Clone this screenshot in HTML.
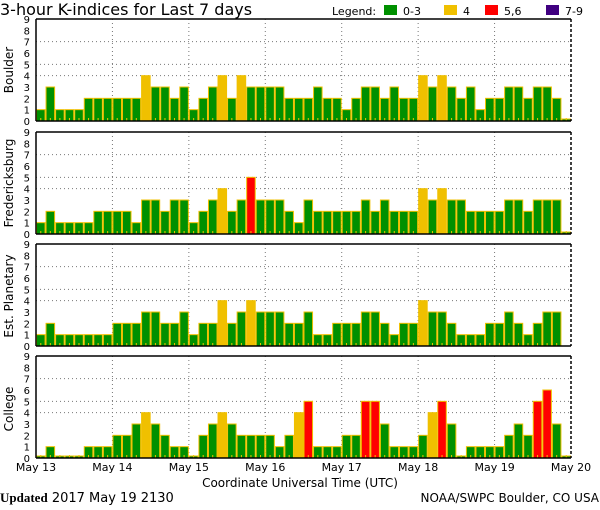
<!DOCTYPE html>
<html><head><meta charset="utf-8"><style>
body{margin:0;background:#fff;width:600px;height:510px;overflow:hidden}
svg{display:block}
text{font-family:"DejaVu Sans","Liberation Sans",sans-serif;fill:#000}
</style></head><body>
<svg id="s" width="600" height="510" xmlns="http://www.w3.org/2000/svg">
<text x="0" y="15" font-size="16">3-hour K-indices for Last 7 days</text>
<text x="332" y="15" font-size="11">Legend:</text>
<rect x="384" y="5" width="13" height="10" fill="#009000"/><text x="403" y="15" font-size="11">0-3</text>
<rect x="444" y="5" width="13" height="10" fill="#f0c000"/><text x="463" y="15" font-size="11">4</text>
<rect x="485" y="5" width="13" height="10" fill="#ff0000"/><text x="504" y="15" font-size="11">5,6</text>
<rect x="546" y="5" width="13" height="10" fill="#400080"/><text x="565" y="15" font-size="11">7-9</text>
<g id="g"></g>
<g font-size="11" text-anchor="middle">
<text x="36" y="471">May 13</text><text x="112.4" y="471">May 14</text><text x="188.9" y="471">May 15</text><text x="265.3" y="471">May 16</text><text x="341.7" y="471">May 17</text><text x="418.1" y="471">May 18</text><text x="494.6" y="471">May 19</text><text x="571" y="471">May 20</text>
<text x="300" y="487" font-size="12">Coordinate Universal Time (UTC)</text>
</g>
<text x="0" y="502" font-size="13"><tspan font-family="Liberation Serif,serif" font-weight="bold">Updated</tspan> 2017 May 19 2130</text>
<text x="599" y="502" font-size="12" text-anchor="end">NOAA/SWPC Boulder, CO USA</text>
<g font-size="12" text-anchor="middle">
<text transform="translate(13,70) rotate(-90)">Boulder</text>
<text transform="translate(13,183) rotate(-90)">Fredericksburg</text>
<text transform="translate(13,296) rotate(-90)">Est. Planetary</text>
<text transform="translate(13,409) rotate(-90)">College</text>
</g>
</svg>
<script>
var D=[
[1,3,1,1,1,2,2,2,2,2,2,4,3,3,2,3,1,2,3,4,2,4,3,3,3,3,2,2,2,3,2,2,1,2,3,3,2,3,2,2,4,3,4,3,2,3,1,2,2,3,3,2,3,3,2,0],
[1,2,1,1,1,1,2,2,2,2,1,3,3,2,3,3,1,2,3,4,2,3,5,3,3,3,2,1,3,2,2,2,2,2,3,2,3,2,2,2,4,3,4,3,3,2,2,2,2,3,3,2,3,3,3,0],
[1,2,1,1,1,1,1,1,2,2,2,3,3,2,2,3,1,2,2,4,2,3,4,3,3,3,2,2,3,1,1,2,2,2,3,3,2,1,2,2,4,3,3,2,1,1,1,2,2,3,2,1,2,3,3,-1],
[0,1,0,0,0,1,1,1,2,2,3,4,3,2,1,1,0,2,3,4,3,2,2,2,2,1,2,4,5,1,1,1,2,2,5,5,3,1,1,1,2,4,5,3,0,1,1,1,1,2,3,2,5,6,3,0]];
var tops=[19,132,244,356],L=36,R=571,H=102,u=H/9,bw=(R-L)/56,s='';
D.forEach(function(d,p){var t=tops[p],b=t+H;
for(var k=0;k<=9;k++)s+='<text x="30" y="'+(b-k*u+4)+'" font-size="10" text-anchor="end">'+k+'</text>';
[4,5,7].forEach(function(k){var y=b-k*u;s+='<line x1="'+L+'" x2="'+R+'" y1="'+y+'" y2="'+y+'" stroke="#777" stroke-dasharray="1,3"/>';});
for(var j=1;j<7;j++){var x=L+j*(R-L)/7;s+='<line x1="'+x+'" x2="'+x+'" y1="'+t+'" y2="'+b+'" stroke="#777" stroke-dasharray="1,3"/>';}
d.forEach(function(v,i){if(v<0)return;var x=L+i*bw,h=v==0?2:v*u;
var c=v>=7?'#400080':v>=5?'#ff0000':v==4?'#f0c000':'#009000';
s+='<rect x="'+(x+0.5)+'" y="'+(b-h)+'" width="'+(bw-1)+'" height="'+h+'" fill="'+c+'" stroke="#f0c000" stroke-width="1"/>';
s+='<rect x="'+(x+bw/2-0.5)+'" y="'+(b-3)+'" width="1" height="3" fill="#f0c000"/>';});
s+='<line x1="'+L+'" x2="'+R+'" y1="'+t+'" y2="'+t+'" stroke="#000" stroke-width="1.5"/>';
s+='<line x1="'+L+'" x2="'+R+'" y1="'+b+'" y2="'+b+'" stroke="#000" stroke-width="1.5"/>';
s+='<line x1="'+L+'" x2="'+L+'" y1="'+t+'" y2="'+b+'" stroke="#000" stroke-width="1.5"/>';
s+='<line x1="'+R+'" x2="'+R+'" y1="'+t+'" y2="'+b+'" stroke="#000" stroke-width="1.5" stroke-dasharray="3,2"/>';
});
document.getElementById('g').innerHTML=s;
</script>
</body></html>
